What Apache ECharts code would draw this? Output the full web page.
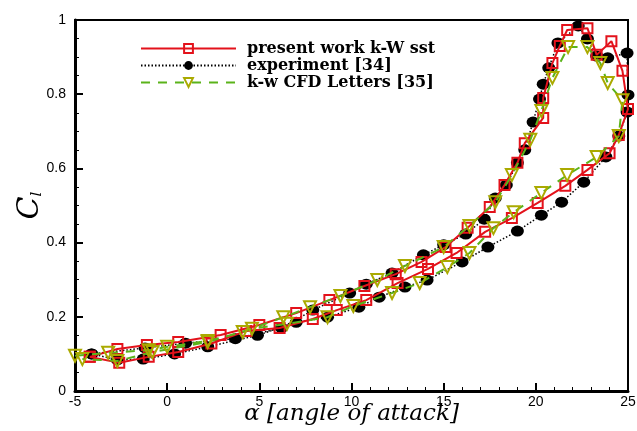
<!DOCTYPE html>
<html><head><meta charset="utf-8">
<script src="https://cdn.jsdelivr.net/npm/echarts@6/dist/echarts.min.js"></script>
<style>html,body{margin:0;padding:0;background:#fff}#c{width:637px;height:431px}</style>
</head><body><div id="c"></div>
<script>
const xTicks = [-5, 0, 5, 10, 15, 20, 25];
const yTicks = [0, 0.2, 0.4, 0.6, 0.8, 1];
const seriesNames = ['present work k-W sst', 'experiment [34]', 'k-w CFD Letters [35]'];

const presentAlpha = [-4.2,-2.7,-1.1,0.6,2.9,5.0,7.0,8.8,10.7,12.4,13.8,15.1,16.3,17.5,18.3,19.0,19.4,20.4,20.4,20.9,21.3,21.7,22.8,23.3,24.1,24.7,25.0,24.5,24.0,22.8,21.6,20.1,18.7,17.25,15.7,14.15,12.5,10.8,9.2,7.9,6.1,4.3,2.4,0.6,-1.0,-2.6,-4.2];
const presentCl    = [0.092,0.113,0.124,0.132,0.151,0.178,0.210,0.245,0.283,0.315,0.348,0.388,0.440,0.496,0.555,0.615,0.668,0.736,0.790,0.884,0.930,0.973,0.978,0.906,0.943,0.863,0.760,0.690,0.641,0.596,0.553,0.507,0.466,0.429,0.372,0.329,0.291,0.245,0.218,0.194,0.170,0.162,0.128,0.105,0.092,0.076,0.092];

const expAlpha = [-4.1,-1.2,1.0,3.7,6.2,7.9,9.9,10.8,12.2,13.9,15.0,16.2,17.2,17.8,18.4,19.0,19.4,19.85,20.2,20.4,20.7,21.2,22.3,22.8,23.3,23.9,24.95,25.0,24.95,24.5,23.8,22.6,21.4,20.3,19.0,17.4,16.0,14.1,12.9,11.5,10.4,8.7,7.0,4.9,2.2,0.4,-1.3,-2.7,-4.1];
const expCl    = [0.100,0.116,0.129,0.141,0.170,0.218,0.264,0.288,0.318,0.367,0.394,0.423,0.463,0.520,0.555,0.615,0.650,0.725,0.787,0.827,0.871,0.938,0.984,0.949,0.903,0.898,0.911,0.798,0.752,0.687,0.631,0.563,0.509,0.474,0.431,0.388,0.348,0.299,0.280,0.253,0.226,0.199,0.185,0.150,0.119,0.100,0.086,0.084,0.100];

const cfdAlpha = [-5.0,-3.2,-1.0,0.0,2.2,4.1,6.3,7.75,9.4,11.4,12.9,15.0,16.4,17.8,18.7,19.7,20.3,20.9,21.75,22.8,23.5,23.9,24.7,24.5,23.3,21.7,20.3,18.8,17.7,16.4,15.2,13.7,12.2,10.1,8.7,6.5,4.6,2.2,-0.8,-2.7,-4.6];
const cfdCl    = [0.095,0.103,0.110,0.119,0.135,0.159,0.199,0.226,0.256,0.299,0.337,0.388,0.445,0.509,0.582,0.677,0.755,0.844,0.927,0.927,0.884,0.830,0.784,0.687,0.631,0.582,0.534,0.482,0.439,0.372,0.334,0.291,0.264,0.229,0.199,0.181,0.168,0.132,0.105,0.081,0.086];

const zip = (a, b) => a.map((v, i) => [v, b[i]]);
const chart = echarts.init(document.getElementById('c'), null, {renderer: 'canvas'});
const labelFont = {color: '#000', fontFamily: 'Liberation Sans', fontSize: 14};

chart.setOption({
  animation: false,
  backgroundColor: '#fff',
  grid: {left: 75, right: 9, top: 20, bottom: 40, show: true, borderColor: '#000', borderWidth: 2, outerBoundsMode: 'none'},
  legend: {
    left: 135, top: 35, orient: 'vertical', itemWidth: 95, itemHeight: 11, itemGap: 0,
    textStyle: {fontFamily: 'DejaVu Serif', fontWeight: 'bold', fontSize: 16, lineHeight: 17, color: '#000', padding: [0, 0, 0, 6]},
    data: seriesNames
  },
  xAxis: {
    type: 'value', min: xTicks[0], max: xTicks[xTicks.length - 1], interval: 5,
    name: 'α [angle of attack]', nameLocation: 'middle', nameGap: 12, nameMoveOverlap: false,
    nameTextStyle: {fontFamily: 'DejaVu Serif', fontStyle: 'italic', fontSize: 23, color: '#000', verticalAlign: 'top'},
    axisLine: {show: true, onZero: false, lineStyle: {color: '#000', width: 3}},
    axisTick: {show: true, inside: true, length: 8, lineStyle: {color: '#000', width: 2}},
    minorTick: {show: true, splitNumber: 5, length: 4, lineStyle: {color: '#000', width: 1}},
    splitLine: {show: false},
    axisLabel: Object.assign({margin: 4}, labelFont)
  },
  yAxis: {
    type: 'value', min: yTicks[0], max: yTicks[yTicks.length - 1], interval: 0.2,
    name: '{c|C}{s|l}', nameLocation: 'middle', nameGap: 30, nameRotate: 90, nameMoveOverlap: false,
    nameTextStyle: {rich: {
      c: {fontFamily: 'DejaVu Serif', fontStyle: 'italic', fontSize: 30, color: '#000'},
      s: {fontFamily: 'DejaVu Serif', fontStyle: 'italic', fontSize: 15, color: '#000', verticalAlign: 'bottom', padding: [14, 0, 0, 0]}
    }},
    axisLine: {show: true, onZero: false, lineStyle: {color: '#000', width: 3}},
    axisTick: {show: true, inside: true, length: 8, lineStyle: {color: '#000', width: 2}},
    minorTick: {show: true, splitNumber: 4, length: 4, lineStyle: {color: '#000', width: 1}},
    splitLine: {show: false},
    axisLabel: Object.assign({margin: 9}, labelFont)
  },
  series: [
    {
      name: seriesNames[0], type: 'line', data: zip(presentAlpha, presentCl), z: 3,
      symbol: 'rect', symbolSize: 10,
      lineStyle: {color: '#e3121b', width: 2},
      itemStyle: {color: 'rgba(255,255,255,0)', borderColor: '#e3121b', borderWidth: 2}
    },
    {
      name: seriesNames[1], type: 'line', data: zip(expAlpha, expCl), z: 2,
      symbol: 'circle', symbolSize: [13, 11],
      lineStyle: {color: '#000', width: 1.5, type: [1.5, 2]},
      itemStyle: {color: '#000', borderWidth: 0}
    },
    {
      name: seriesNames[2], type: 'line', data: zip(cfdAlpha, cfdCl), z: 4,
      symbol: 'triangle', symbolRotate: 180, symbolSize: 12,
      lineStyle: {color: '#5bb31a', width: 2, type: [9, 8]},
      itemStyle: {color: 'rgba(255,255,255,0)', borderColor: '#aaaa00', borderWidth: 2}
    }
  ]
});
</script></body></html>
